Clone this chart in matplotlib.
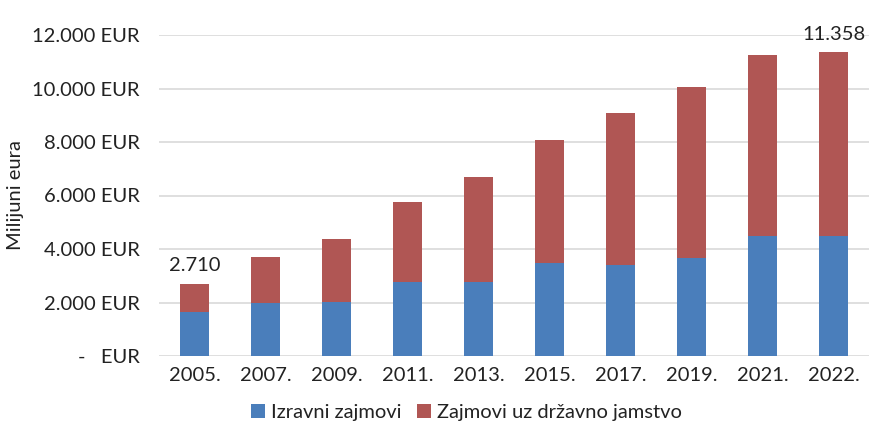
import matplotlib
matplotlib.use("Agg")
import matplotlib.pyplot as plt
import numpy as np

years = ["2005.", "2007.", "2009.", "2011.", "2013.", "2015.", "2017.", "2019.", "2021.", "2022."]
izravni = [1640, 1980, 2010, 2760, 2760, 3470, 3400, 3660, 4480, 4480]
jamstvo_total = [2710, 3700, 4370, 5750, 6680, 8060, 9070, 10040, 11270, 11358]
jamstvo = [t - b for t, b in zip(jamstvo_total, izravni)]
yticks = [0, 2000, 4000, 6000, 8000, 10000, 12000]

plt.rcParams['font.family'] = ['Lato', 'DejaVu Sans']

fig = plt.figure(figsize=(8.73, 4.29), dpi=100)
ax = fig.add_axes([159 / 873, 1 - 356 / 429, 710 / 873, (356 - 35) / 429])

x = np.arange(len(years))
blue = "#4a7ebb"
red = "#b05654"
ax.bar(x, izravni, width=0.41, color=blue, label="Izravni zajmovi", zorder=3)
ax.bar(x, jamstvo, width=0.41, bottom=izravni, color=red,
       label="Zajmovi uz državno jamstvo", zorder=3)

ax.set_xlim(-0.5, len(years) - 0.5)
ax.set_ylim(0, 12000)
ax.set_yticks(yticks)
ax.set_yticklabels([("{:,}".format(v).replace(",", ".") + " EUR") if v else "-   EUR" for v in yticks])
ax.set_xticks(x)
ax.set_xticklabels(years)
ax.tick_params(length=0, labelsize=14.5, colors="#222222")
ax.tick_params(axis="x", pad=8)
ax.tick_params(axis="y", pad=14)
ax.grid(axis="y", color="#d9d9d9", linewidth=1.2, zorder=0)
for s in ax.spines.values():
    s.set_visible(False)

ax.set_ylabel("Milijuni eura", fontsize=14.5, color="#222222", labelpad=6)

# total labels on first and last bar
for i in (0, len(years) - 1):
    ax.text(x[i], jamstvo_total[i] + 350, "{:,}".format(jamstvo_total[i]).replace(",", "."),
            ha="center", va="bottom", fontsize=14.5, color="#222222", clip_on=False)

ax.legend(loc="center", bbox_to_anchor=(0.433, -0.175), ncol=2, frameon=False,
          fontsize=14.5, handlelength=0.7, handleheight=0.7, handletextpad=0.3,
          columnspacing=0.8, labelcolor="#222222", borderpad=0.2)

fig.savefig("out.png", dpi=100)
